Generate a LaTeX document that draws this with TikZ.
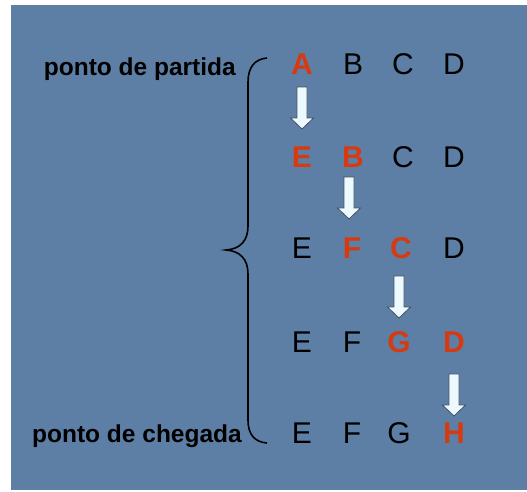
\documentclass[tikz,border=0pt]{standalone}
\usepackage{fontspec}
\setmainfont{Liberation Sans}
\usepackage{tikz}

\definecolor{slide}{RGB}{94,127,165}
\definecolor{hilite}{RGB}{214,58,16}
\definecolor{arrowfill}{RGB}{236,250,255}
\definecolor{arrowline}{RGB}{70,82,96}

\begin{document}
\begin{tikzpicture}[
  x=1pt, y=-1pt,
  letter/.style={inner sep=0pt, font=\fontsize{30}{36}\selectfont, text=black},
  moved/.style={letter, font=\fontsize{30}{36}\selectfont\bfseries, text=hilite},
  label/.style={inner sep=0pt, font=\fontsize{24.5}{29}\selectfont\bfseries, text=black},
  blockarrow/.style={fill=arrowfill, draw=arrowline, line width=0.8pt, line join=miter}
]
\useasboundingbox (0,0) rectangle (527,491);
\fill[white] (0,0) rectangle (527,491);
\fill[slide] (11,5) rectangle (527,490);

% rows of letters
\node[moved]  (a1) at (302,64) {A}; \node[letter] (b1) at (353,64) {B};
\node[letter] (c1) at (403,64) {C}; \node[letter] (d1) at (454,64) {D};

\node[moved]  (a2) at (302,157) {E}; \node[moved]  (b2) at (353,157) {B};
\node[letter] (c2) at (403,157) {C}; \node[letter] (d2) at (454,157) {D};

\node[letter] (a3) at (302,248) {E}; \node[moved]  (b3) at (352,248) {F};
\node[moved]  (c3) at (401,248) {C}; \node[letter] (d3) at (454,248) {D};

\node[letter] (a4) at (302,342) {E}; \node[letter] (b4) at (352,342) {F};
\node[moved]  (c4) at (399,342) {G}; \node[moved]  (d4) at (454,342) {D};

\node[letter] (a5) at (302,433) {E}; \node[letter] (b5) at (352,433) {F};
\node[letter] (c5) at (399,433) {G}; \node[moved]  (d5) at (454,433) {H};

\node[label, anchor=base east] (partida) at (236,75) {ponto de partida};
\node[label, anchor=base east] (chegada) at (242,442) {ponto de chegada};

% block arrows
\coordinate (s1) at (302,87);
\coordinate (s2) at (349,177);
\coordinate (s3) at (399,276);
\coordinate (s4) at (454,374);
\foreach \s in {s1,s2,s3,s4}
  \draw[blockarrow] (\s) ++(-5,0) -- ++(10,0) -- ++(0,31) -- ++(6.5,0)
    -- ++(-11.5,11) -- ++(-11.5,-11) -- ++(6.5,0) -- cycle;

% brace
\draw[line width=1.6pt] (267,58) .. controls (255,59) and (248,67) .. (248,82)
  -- (248,226) .. controls (248,241) and (240,249) .. (226,250)
  .. controls (240,251) and (248,259) .. (248,274)
  -- (248,420) .. controls (248,435) and (255,442) .. (267,443);
\end{tikzpicture}
\end{document}
